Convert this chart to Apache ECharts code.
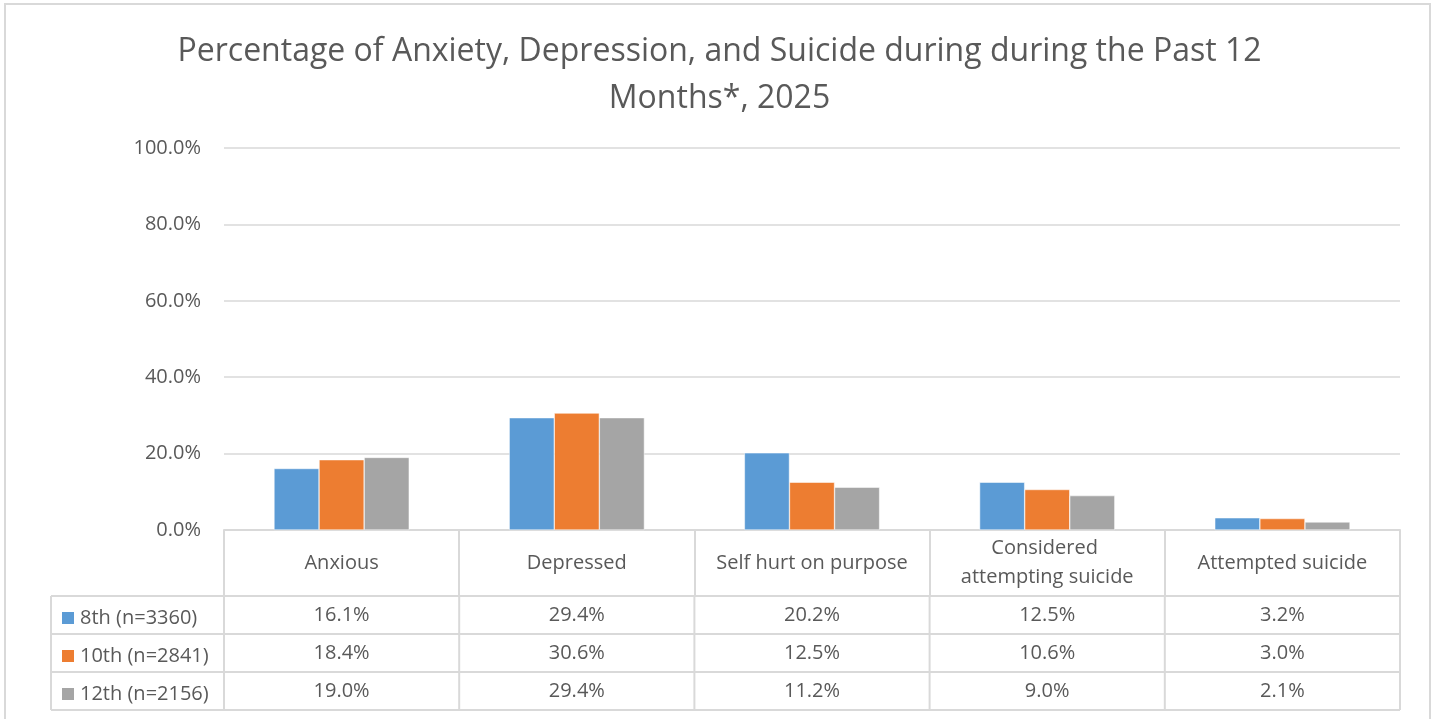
<!DOCTYPE html>
<html>
<head>
<meta charset="utf-8">
<script src="https://cdn.jsdelivr.net/npm/echarts@6/dist/echarts.min.js"></script>
<style>
html,body{margin:0;padding:0;background:#fff;}
#chart{width:1439px;height:719px;}
</style>
</head>
<body>
<div id="chart"></div>
<script>
const titleText = 'Percentage of Anxiety, Depression, and Suicide during during the Past 12\nMonths*, 2025';
const categories = ['Anxious', 'Depressed', 'Self hurt on purpose', 'Considered attempting suicide', 'Attempted suicide'];
const seriesNames = ['8th (n=3360)', '10th (n=2841)', '12th (n=2156)'];
const grade8 = [16.1, 29.4, 20.2, 12.5, 3.2];
const grade10 = [18.4, 30.6, 12.5, 10.6, 3.0];
const grade12 = [19.0, 29.4, 11.2, 9.0, 2.1];
const yMin = 0, yMax = 100, yInterval = 20;

const seriesValues = [grade8, grade10, grade12];
const colors = ['#5B9BD5', '#ED7D31', '#A5A5A5'];
const FONT = 'Open Sans';
const TXT = '#595959';
const LINE = '#d9d9d9';
const fmt = v => v.toFixed(1) + '%';

const chart = echarts.init(document.getElementById('chart'));
const option = {
  animation: false,
  color: colors,
  textStyle: { fontFamily: FONT },
  title: {
    text: titleText,
    left: 'center',
    top: 23,
    textStyle: { fontFamily: FONT, fontSize: 32, fontWeight: 'normal', color: TXT, lineHeight: 47 }
  },
  grid: { left: 224, right: 39, top: 148, bottom: 189 },
  xAxis: {
    type: 'category',
    data: categories,
    axisLine: { lineStyle: { color: LINE, width: 2 } },
    axisTick: { show: true, length: 66, lineStyle: { color: LINE, width: 2 } },
    axisLabel: {
      interval: 0, margin: 33, verticalAlign: 'middle',
      fontFamily: FONT, fontSize: 20, color: TXT, lineHeight: 29,
      width: 205, overflow: 'break'
    }
  },
  yAxis: {
    type: 'value',
    min: yMin, max: yMax, interval: yInterval,
    axisLine: { show: false },
    axisTick: { show: false },
    splitLine: { lineStyle: { color: LINE, width: 1.5 } },
    axisLabel: { formatter: v => fmt(v), fontFamily: FONT, fontSize: 20, color: TXT, margin: 23 }
  },
  series: seriesNames.map((name, i) => ({
    name: name,
    type: 'bar',
    data: seriesValues[i],
    barGap: '0%',
    barCategoryGap: '42.5%',
    itemStyle: { color: colors[i], borderColor: '#fff', borderWidth: 0.5 }
  }))
};
chart.setOption(option);

// Build the data table (and its legend keys) from the axis scales
const centers = categories.map(c => chart.convertToPixel({ xAxisIndex: 0 }, c));
const bw = (centers[centers.length - 1] - centers[0]) / (centers.length - 1);
const bounds = centers.map(c => c - bw / 2).concat([centers[centers.length - 1] + bw / 2]);
const y0 = chart.convertToPixel({ yAxisIndex: 0 }, yMin);
const headerH = 66, rowH = 38, legendLeft = 51, keySize = 14;
const rowTop = y0 + headerH;
const g = [];
g.push({ type: 'rect', silent: true, z: -1, shape: { x: 5, y: 4, width: 1425, height: 800 },
  style: { fill: 'none', stroke: LINE, lineWidth: 2 } });
for (let r = 0; r <= seriesNames.length; r++) {
  const y = rowTop + r * rowH;
  g.push({ type: 'line', silent: true, shape: { x1: legendLeft, y1: y, x2: bounds[bounds.length - 1], y2: y },
    style: { stroke: LINE, lineWidth: 2 } });
}
[legendLeft].concat(bounds).forEach(x => {
  g.push({ type: 'line', silent: true, shape: { x1: x, y1: rowTop, x2: x, y2: rowTop + seriesNames.length * rowH },
    style: { stroke: LINE, lineWidth: 2 } });
});
seriesValues.forEach((vals, r) => {
  vals.forEach((v, c) => {
    g.push({ type: 'text', silent: true, x: centers[c], y: rowTop + r * rowH + rowH / 2,
      style: { text: fmt(v), fontFamily: FONT, fontSize: 20, fill: TXT, align: 'center', verticalAlign: 'middle' } });
  });
});
const legends = seriesNames.map((name, r) => ({
  orient: 'vertical',
  left: legendLeft + 9,
  top: rowTop + r * rowH + rowH / 2 - keySize / 2,
  padding: 0,
  itemWidth: keySize,
  itemHeight: keySize,
  icon: 'rect',
  selectedMode: false,
  textStyle: { fontFamily: FONT, fontSize: 20, color: TXT },
  data: [name]
}));
chart.setOption({ graphic: g, legend: legends });
</script>
</body>
</html>
